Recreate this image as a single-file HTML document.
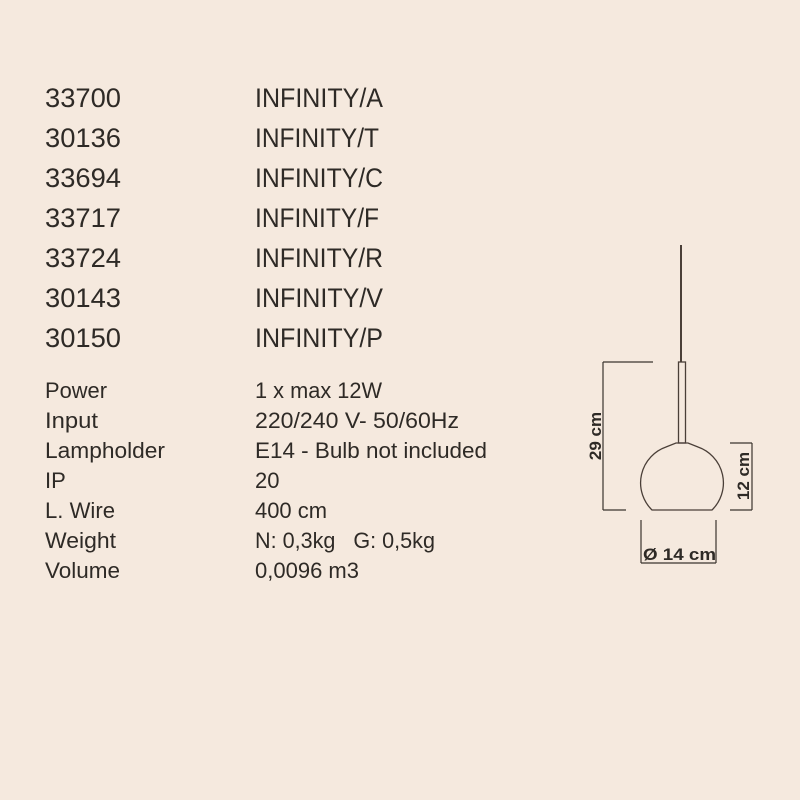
<!DOCTYPE html>
<html><head><meta charset="utf-8"><style>
html,body{margin:0;padding:0;background:#f5e9de;}
svg{display:block}
text{font-family:"Liberation Sans",sans-serif;fill:#2e2a26;}
.c{font-size:27px}
.s{font-size:22px}
</style></head><body>
<svg width="800" height="800" viewBox="0 0 800 800" xmlns="http://www.w3.org/2000/svg">
<rect width="800" height="800" fill="#f5e9de"/>
<g class="c">
<text x="45" y="107" textLength="76" lengthAdjust="spacingAndGlyphs">33700</text><text x="255" y="107" textLength="128" lengthAdjust="spacingAndGlyphs">INFINITY/A</text>
<text x="45" y="147" textLength="76" lengthAdjust="spacingAndGlyphs">30136</text><text x="255" y="147" textLength="124" lengthAdjust="spacingAndGlyphs">INFINITY/T</text>
<text x="45" y="187" textLength="76" lengthAdjust="spacingAndGlyphs">33694</text><text x="255" y="187" textLength="128" lengthAdjust="spacingAndGlyphs">INFINITY/C</text>
<text x="45" y="227" textLength="76" lengthAdjust="spacingAndGlyphs">33717</text><text x="255" y="227" textLength="124" lengthAdjust="spacingAndGlyphs">INFINITY/F</text>
<text x="45" y="267" textLength="76" lengthAdjust="spacingAndGlyphs">33724</text><text x="255" y="267" textLength="128" lengthAdjust="spacingAndGlyphs">INFINITY/R</text>
<text x="45" y="307" textLength="76" lengthAdjust="spacingAndGlyphs">30143</text><text x="255" y="307" textLength="128" lengthAdjust="spacingAndGlyphs">INFINITY/V</text>
<text x="45" y="347" textLength="76" lengthAdjust="spacingAndGlyphs">30150</text><text x="255" y="347" textLength="128" lengthAdjust="spacingAndGlyphs">INFINITY/P</text>
</g>
<g class="s">
<text x="45" y="398" textLength="62" lengthAdjust="spacingAndGlyphs">Power</text><text x="255" y="398" textLength="127" lengthAdjust="spacingAndGlyphs">1 x max 12W</text>
<text x="45" y="428" textLength="53" lengthAdjust="spacingAndGlyphs">Input</text><text x="255" y="428" textLength="204" lengthAdjust="spacingAndGlyphs">220/240 V- 50/60Hz</text>
<text x="45" y="458" textLength="120" lengthAdjust="spacingAndGlyphs">Lampholder</text><text x="255" y="458" textLength="232" lengthAdjust="spacingAndGlyphs">E14 - Bulb not included</text>
<text x="45" y="488">IP</text><text x="255" y="488">20</text>
<text x="45" y="518" textLength="70" lengthAdjust="spacingAndGlyphs">L. Wire</text><text x="255" y="518" textLength="72" lengthAdjust="spacingAndGlyphs">400 cm</text>
<text x="45" y="548" textLength="71" lengthAdjust="spacingAndGlyphs">Weight</text><text x="255" y="548" textLength="180" lengthAdjust="spacingAndGlyphs">N: 0,3kg&#160;&#160;&#160;G: 0,5kg</text>
<text x="45" y="578" textLength="75" lengthAdjust="spacingAndGlyphs">Volume</text><text x="255" y="578" textLength="104" lengthAdjust="spacingAndGlyphs">0,0096 m3</text>
</g>
<g stroke="#4a3f38" fill="none">
<line x1="681" y1="245" x2="681" y2="362" stroke-width="2"/>
<rect x="678.5" y="362" width="7" height="81" stroke-width="1.3"/>
<path d="M676 443 L688 443 L698 447 A38 38 0 0 1 712 510 L652 510 A38 38 0 0 1 666 447 Z" stroke-width="1.3"/>
<g stroke-width="1.2" stroke="#3a342e">
<line x1="603" y1="362" x2="603" y2="510"/><line x1="603" y1="362" x2="653" y2="362"/><line x1="603" y1="510" x2="626" y2="510"/>
<line x1="752" y1="443" x2="752" y2="510"/><line x1="730" y1="443" x2="752" y2="443"/><line x1="730" y1="510" x2="752" y2="510"/>
<line x1="641" y1="520" x2="641" y2="563"/><line x1="716" y1="520" x2="716" y2="563"/><line x1="641" y1="563" x2="716" y2="563"/>
</g>
</g>
<text x="0" y="0" transform="translate(601,436) rotate(-90)" text-anchor="middle" style="font-size:17px;font-weight:bold">29 cm</text>
<text x="0" y="0" transform="translate(749,476) rotate(-90)" text-anchor="middle" style="font-size:17px;font-weight:bold">12 cm</text>
<text x="643" y="560" textLength="73" lengthAdjust="spacingAndGlyphs" style="font-size:17px;font-weight:bold">Ø 14 cm</text>
</svg>
</body></html>
